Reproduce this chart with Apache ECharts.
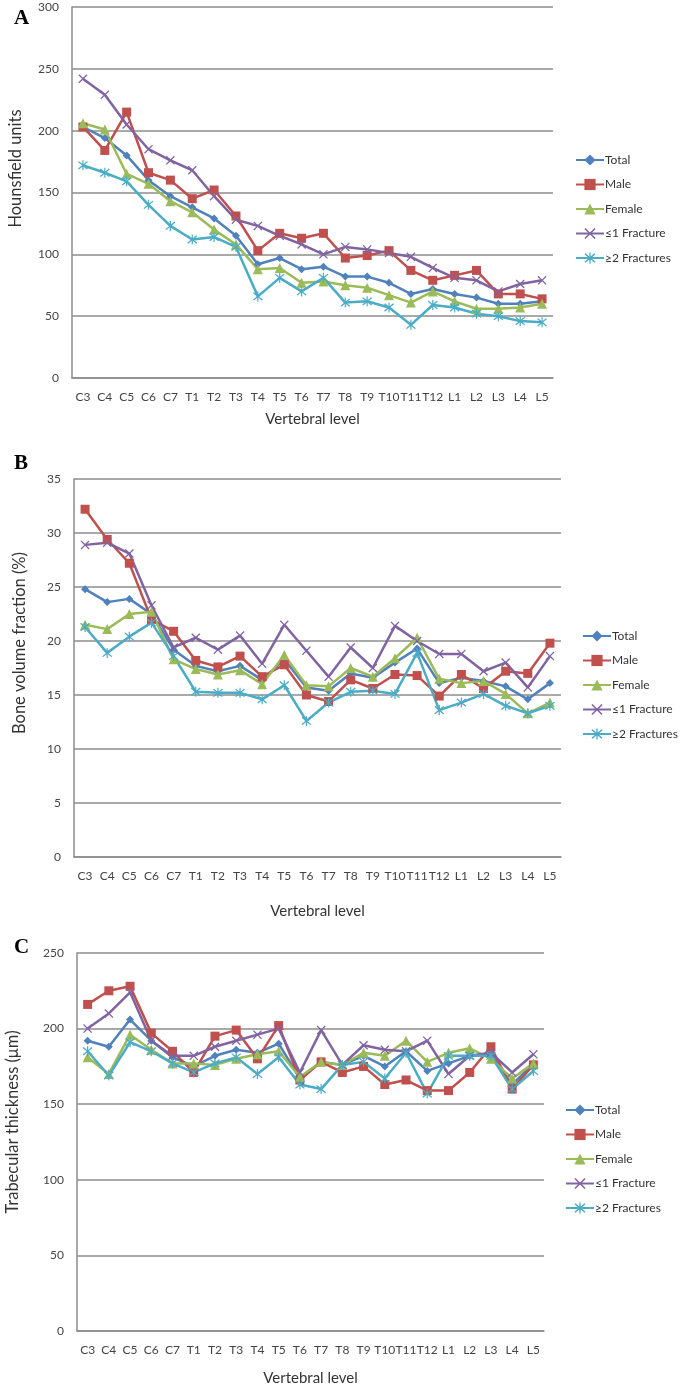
<!DOCTYPE html>
<html>
<head>
<meta charset="utf-8">
<title>Vertebral level</title>
<script src="https://cdn.jsdelivr.net/npm/echarts@6/dist/echarts.min.js"></script>
<style>
  html, body { margin: 0; padding: 0; background: #fff; }
  #chart { width: 685px; height: 1389px; }
</style>
</head>
<body>
<div id="chart"></div>
<script>
const levels = ['C3', 'C4', 'C5', 'C6', 'C7', 'T1', 'T2', 'T3', 'T4', 'T5', 'T6', 'T7', 'T8', 'T9', 'T10', 'T11', 'T12', 'L1', 'L2', 'L3', 'L4', 'L5']
const seriesNames = ['Total', 'Male', 'Female', '≤1 Fracture', '≥2 Fractures']

// A - Hounsfield units
const huTotal = [203, 194, 180, 160, 147, 138, 129, 115, 92, 97, 88, 90, 82, 82, 77, 68, 72, 68, 65, 60, 60, 62]
const huMale = [203, 184, 215, 166, 160, 145, 152, 131, 103, 117, 113, 117, 97, 99, 103, 87, 79, 83, 87, 68, 68, 64]
const huFemale = [206, 201, 165, 157, 143, 134, 120, 108, 88, 89, 77, 78, 75, 73, 67, 61, 70, 62, 56, 56, 57, 60]
const huLe1 = [242, 229, 205, 185, 176, 168, 147, 128, 123, 115, 108, 100, 106, 104, 101, 98, 89, 81, 79, 70, 76, 79]
const huGe2 = [172, 166, 159, 140, 123, 112, 114, 106, 66, 81, 70, 81, 61, 62, 57, 43, 59, 57, 52, 50, 46, 45]

// B - bone volume fraction (%)
const bvTotal = [24.8, 23.6, 23.9, 22.5, 19.2, 17.7, 17.2, 17.7, 16.4, 18.3, 15.7, 15.4, 17.0, 16.6, 18.0, 19.3, 16.1, 16.6, 16.3, 15.8, 14.6, 16.1]
const bvMale = [32.2, 29.4, 27.2, 22.0, 20.9, 18.2, 17.6, 18.6, 16.7, 17.8, 15.0, 14.4, 16.4, 15.6, 16.9, 16.8, 14.9, 16.9, 15.6, 17.2, 17.0, 19.8]
const bvFemale = [21.5, 21.1, 22.5, 22.7, 18.3, 17.4, 16.9, 17.3, 16.0, 18.7, 15.9, 15.8, 17.5, 16.7, 18.4, 20.3, 16.5, 16.1, 16.3, 15.1, 13.3, 14.3]
const bvLe1 = [28.9, 29.1, 28.1, 23.3, 19.4, 20.3, 19.2, 20.5, 17.9, 21.5, 19.1, 16.7, 19.4, 17.5, 21.4, 20.0, 18.8, 18.8, 17.2, 18.0, 15.7, 18.6]
const bvGe2 = [21.3, 18.9, 20.4, 21.7, 18.6, 15.3, 15.2, 15.2, 14.6, 15.9, 12.6, 14.3, 15.3, 15.4, 15.1, 18.9, 13.6, 14.3, 15.1, 14.0, 13.3, 14.0]

// C - trabecular thickness (um)
const tbTotal = [192, 188, 206, 192, 181, 175, 182, 186, 184, 190, 167, 178, 176, 182, 175, 185, 172, 177, 182, 183, 163, 177]
const tbMale = [216, 225, 228, 197, 185, 171, 195, 199, 180, 202, 166, 178, 171, 175, 163, 166, 159, 159, 171, 188, 160, 176]
const tbFemale = [181, 170, 196, 186, 177, 177, 176, 180, 183, 185, 168, 178, 176, 184, 182, 192, 178, 184, 187, 180, 167, 177]
const tbLe1 = [200, 210, 224, 192, 182, 182, 188, 192, 196, 200, 171, 199, 176, 189, 186, 185, 192, 170, 182, 184, 171, 183]
const tbGe2 = [185, 169, 191, 185, 177, 171, 177, 181, 170, 181, 163, 160, 176, 178, 167, 184, 157, 182, 182, 182, 160, 172]

const colors = ['#4F81BD', '#C0504D', '#9BBB59', '#8064A2', '#4BACC6']
const xMark = 'path://M0,1 L1,0 L5,4 L9,0 L10,1 L6,5 L10,9 L9,10 L5,6 L1,10 L0,9 L4,5 Z'
const starMark = 'path://M0,1 L1,0 L5,4 L9,0 L10,1 L6,5 L10,9 L9,10 L5,6 L1,10 L0,9 L4,5 Z M4.4,-1 L5.6,-1 L5.6,11 L4.4,11 Z'
const symbols = ['diamond', 'rect', 'triangle', xMark, starMark]
const symbolSizes = [8, 9, 10, 9, 10]

const font = 'Lato, "Liberation Sans", sans-serif'
const axisGray = '#8c8c8c'

// one block per panel: grid box, y range, titles, legend spot
// yLift pushes the rotated y title up (Excel centres it on the whole chart, not the plot)
const panels = [
  { letter: 'A', top: 7, bottom: 378, left: 72, right: 132, min: 0, max: 300, interval: 50,
    yName: 'Hounsfield units', yGap: 48, yLift: 24, xGap: 34, legendLeft: 575, legendTop: 154,
    data: [huTotal, huMale, huFemale, huLe1, huGe2], letterTop: 3 },
  { letter: 'B', top: 479, bottom: 857, left: 74, right: 124, min: 0, max: 35, interval: 5,
    yName: 'Bone volume fraction (%)', yGap: 46, yLift: 25, xGap: 47, legendLeft: 582, legendTop: 630,
    data: [bvTotal, bvMale, bvFemale, bvLe1, bvGe2], letterTop: 448 },
  { letter: 'C', top: 953, bottom: 1331, left: 77, right: 141, min: 0, max: 250, interval: 50,
    yName: 'Trabecular thickness (μm)', yGap: 56, yLift: 20, xGap: 40, legendLeft: 565, legendTop: 1104,
    data: [tbTotal, tbMale, tbFemale, tbLe1, tbGe2], letterTop: 932 }
]

const option = {
  animation: false,
  backgroundColor: '#fff',
  color: colors,
  textStyle: { fontFamily: font },
  title: [],
  legend: [],
  grid: [],
  xAxis: [],
  yAxis: [],
  series: []
}

panels.forEach((p, i) => {
  option.title.push({
    text: p.letter, left: 9, top: p.letterTop,
    textStyle: { fontFamily: '"Liberation Serif", "DejaVu Serif", serif', fontWeight: 'bold', fontSize: 21, color: '#000' }
  })
  option.grid.push({ left: p.left, right: p.right, top: p.top, height: p.bottom - p.top, outerBoundsMode: 'none' })
  option.xAxis.push({
    type: 'category', gridIndex: i, data: levels, boundaryGap: true,
    name: 'Vertebral level', nameLocation: 'middle', nameGap: p.xGap,
    nameTextStyle: { fontSize: 15, color: '#333', fontFamily: font },
    axisLine: { lineStyle: { color: axisGray, width: 1.5 } },
    axisTick: { show: false },
    axisLabel: { interval: 0, fontSize: 12, color: '#444', margin: 13 }
  })
  option.yAxis.push({
    type: 'value', gridIndex: i, min: p.min, max: p.max, interval: p.interval,
    name: p.yName, nameLocation: 'middle', nameRotate: 90, nameGap: p.yGap,
    nameTextStyle: { fontSize: 16.5, color: '#333', fontFamily: font, padding: [0, 0, 0, p.yLift * 2] },
    axisLine: { show: true, lineStyle: { color: axisGray, width: 1.5 } },
    axisTick: { show: false },
    axisLabel: { fontSize: 12, color: '#444', margin: 13 },
    splitLine: { lineStyle: { color: axisGray, width: 1.5 } }
  })
  option.legend.push({
    orient: 'vertical', left: p.legendLeft, top: p.legendTop, padding: 0,
    itemWidth: 28, itemHeight: 14, itemGap: 12.5,
    data: seriesNames,
    textStyle: { fontSize: 12, color: '#333', fontFamily: font, padding: [0, 0, 0, -4] }
  })
  p.data.forEach((vals, k) => {
    option.series.push({
      type: 'line', name: seriesNames[k], xAxisIndex: i, yAxisIndex: i,
      data: vals,
      symbol: symbols[k], symbolSize: symbolSizes[k],
      lineStyle: { width: 2.5, color: colors[k] },
      itemStyle: { color: colors[k] },
      emphasis: { disabled: true }
    })
  })
})

const chart = echarts.init(document.getElementById('chart'))
chart.setOption(option)
</script>
</body>
</html>
